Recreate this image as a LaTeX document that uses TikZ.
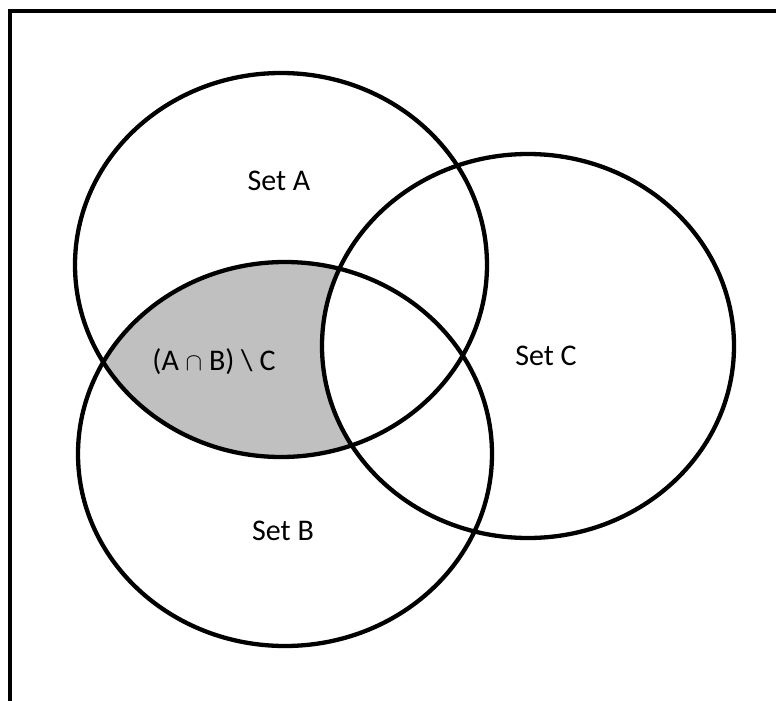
\documentclass[tikz,border=0pt]{standalone}
\usepackage{amsmath}
\usepackage{amssymb}
\usepackage{fontspec}
\setmainfont{Carlito}
\usepackage{tikz}

\definecolor{shadegray}{RGB}{192,192,192}

\begin{document}
\begin{tikzpicture}[
  x=1pt, y=-1pt,
  setline/.style={line width=4.3pt},
  setlabel/.style={font=\fontsize{30}{34}\selectfont, inner sep=0pt},
]
  \useasboundingbox (0,0) rectangle (776,701);
  \clip (0,0) rectangle (776,701);
  % shaded part: inside A and B, outside C
  \begin{scope}
    \clip (281,265) ellipse [x radius=206pt, y radius=192pt];
    \fill[shadegray] (285,454) ellipse [x radius=207pt, y radius=192pt];
  \end{scope}
  \fill[white] (528,346) ellipse [x radius=206pt, y radius=192pt];
  % outer frame
  \draw[setline] (10,720) -- (10,11) -- (800,11);
  % the three sets
  \draw[setline] (281,265) ellipse [x radius=206pt, y radius=192pt];
  \draw[setline] (285,454) ellipse [x radius=207pt, y radius=192pt];
  \draw[setline] (528,346) ellipse [x radius=206pt, y radius=192pt];
  % labels
  \node[setlabel] (setA) at (279,181) {Set A};
  \node[setlabel] (setB) at (283,531) {Set B};
  \node[setlabel] (setC) at (546,356) {Set C};
  \node[setlabel] (diff) at (214,362) {(A $\cap$ B) \textbackslash\ C};
\end{tikzpicture}
\end{document}
